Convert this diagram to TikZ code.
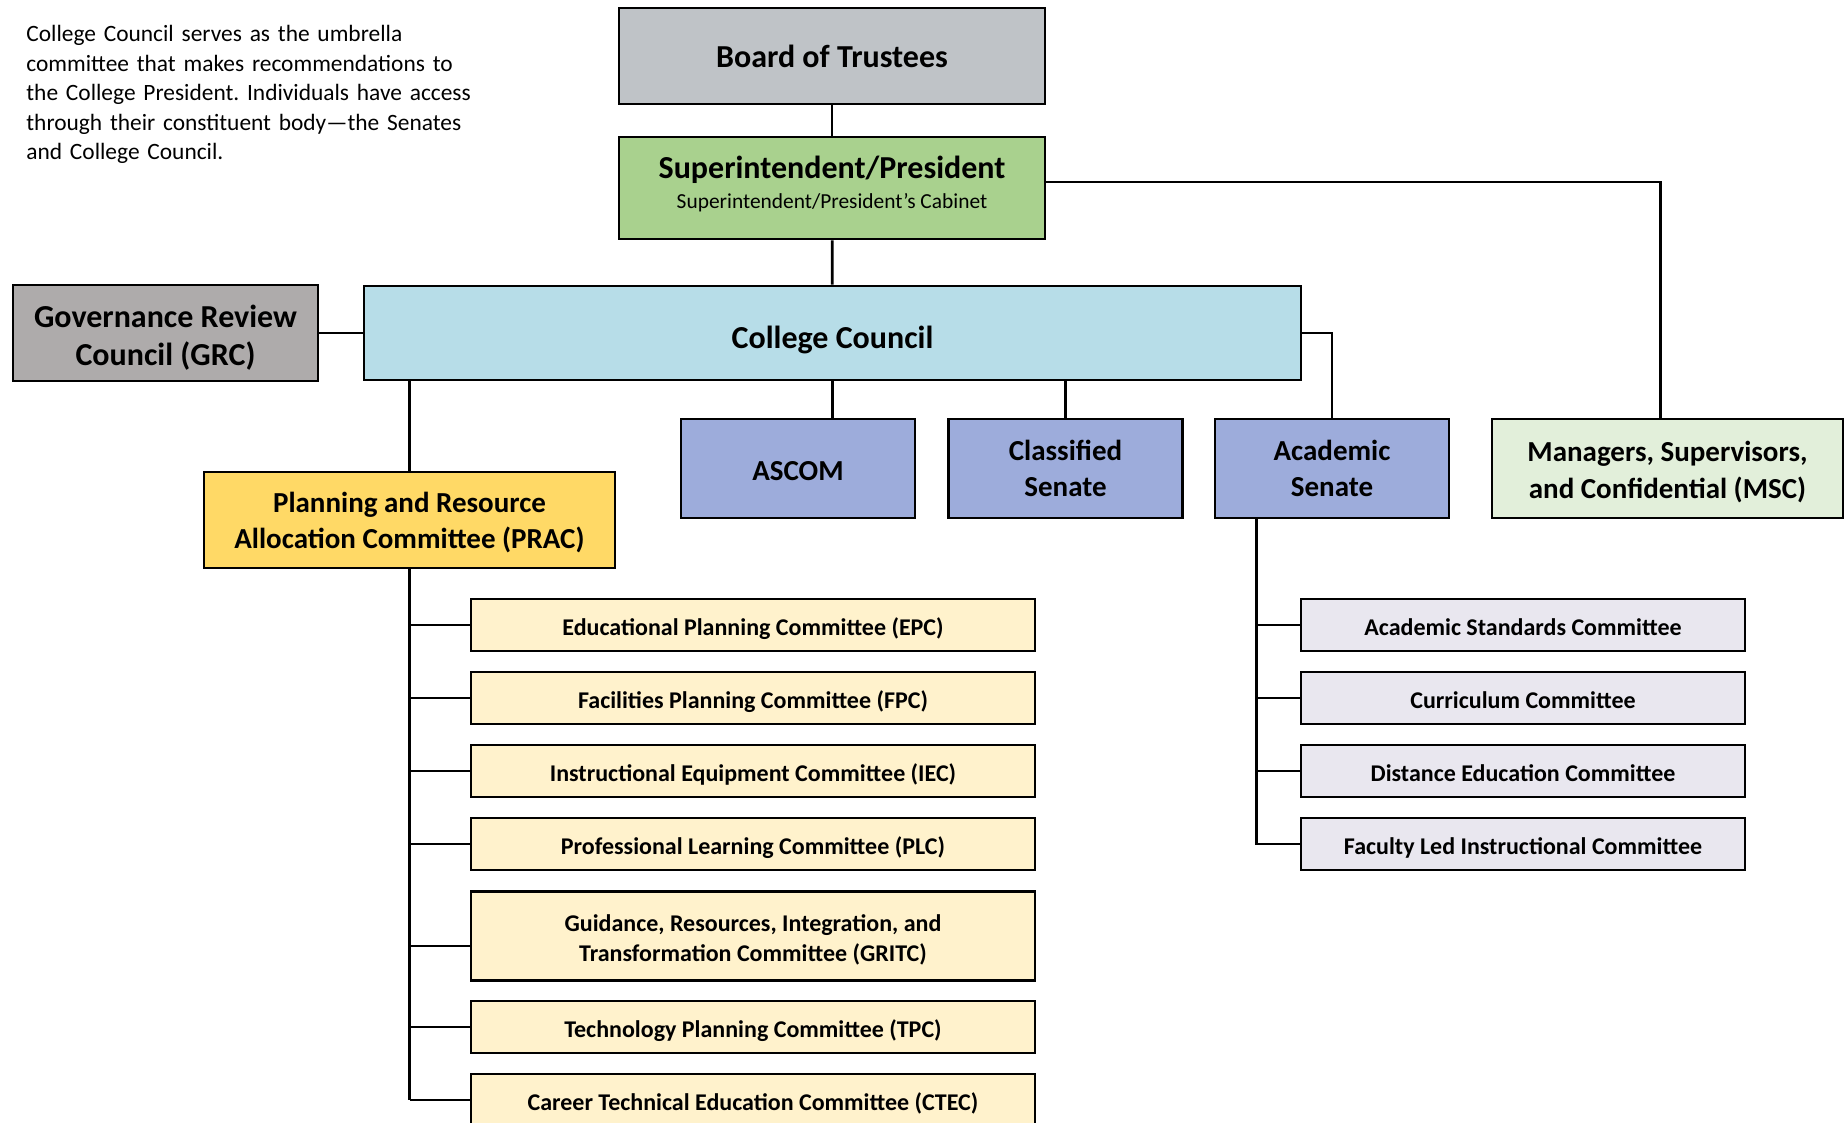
\documentclass[tikz,border=0pt]{standalone}
\usepackage{fontspec}
\setmainfont{Carlito}
\definecolor{boardgray}{RGB}{191,195,199}
\definecolor{suptgreen}{RGB}{169,209,142}
\definecolor{ccblue}{RGB}{183,221,232}
\definecolor{grcgray}{RGB}{174,171,171}
\definecolor{pracyellow}{RGB}{255,217,102}
\definecolor{senateblue}{RGB}{157,172,219}
\definecolor{mscgreen}{RGB}{226,239,218}
\definecolor{subyellow}{RGB}{255,242,204}
\definecolor{subgray}{RGB}{233,231,239}
\frenchspacing
\begin{document}
\begin{tikzpicture}[x=0.5pt,y=-0.5pt,
    box/.style={draw,line width=1.4pt,inner sep=0pt,align=center},
    big/.style={box,font=\fontsize{16}{19}\selectfont\bfseries},
    mid/.style={box,font=\fontsize{14.5}{18.2}\selectfont\bfseries,minimum width=117pt,minimum height=49.5pt},
    subfont/.style={font=\fontsize{12}{14.8}\selectfont\bfseries},
    sub/.style={box,subfont,minimum height=26pt,text height=10.5pt,text depth=0.5pt},
    link/.style={line width=1.4pt}]
    \useasboundingbox (0,0) rectangle (1848,1123);
    \node[anchor=base west,text width=230pt,align=left,inner sep=0pt,font=\fontsize{11.7}{14.7}\selectfont] (note) at (26,42)
        {College Council serves as the umbrella\\committee that makes recommendations to\\the College President. Individuals have access\\through their constituent body—the Senates\\and College Council.};
    % top of the chart
    \node[big,fill=boardgray,minimum width=213pt,minimum height=48pt] (board) at (832,56) {Board of Trustees};
    \node[big,fill=suptgreen,minimum width=213pt,minimum height=51pt] (supt) at (832,188)
        {Superintendent/President\\[-3.8pt]{\fontsize{10.7}{12}\selectfont\mdseries Superintendent/President’s Cabinet\rule[-5.6pt]{0pt}{5.6pt}}};
    \node[big,fill=ccblue,minimum width=468.5pt,minimum height=47pt,text height=17.5pt,text depth=1.5pt] (cc) at (832.5,333) {College Council};
    \node[big,fill=grcgray,minimum width=152.5pt,minimum height=48pt] (grc) at (165.5,333) {\rule{0pt}{16pt}Governance Review\\Council (GRC)};
    % second row
    \node[mid,fill=pracyellow,minimum width=205.5pt,minimum height=48pt] (prac) at (409.5,520) {\rule{0pt}{12.5pt}Planning and Resource\\Allocation Committee (PRAC)};
    \node[mid,fill=senateblue,text height=12pt,text depth=0.2pt] (ascom) at (798,468.5) {ASCOM};
    \node[mid,fill=senateblue] (clas) at (1065.5,468.5) {Classified\\Senate};
    \node[mid,fill=senateblue] (acad) at (1332,468.5) {Academic\\Senate};
    \node[mid,fill=mscgreen,minimum width=175.5pt] (msc) at (1667.5,468.5) {\rule{0pt}{13.5pt}Managers, Supervisors,\\and Confidential (MSC)};
    % PRAC committees
    \node[sub,fill=subyellow,minimum width=282pt] (epc) at (753,625) {Educational Planning Committee (EPC)};
    \node[sub,fill=subyellow,minimum width=282pt] (fpc) at (753,698) {Facilities Planning Committee (FPC)};
    \node[sub,fill=subyellow,minimum width=282pt] (iec) at (753,771) {Instructional Equipment Committee (IEC)};
    \node[sub,fill=subyellow,minimum width=282pt] (plc) at (753,844) {Professional Learning Committee (PLC)};
    \node[box,subfont,fill=subyellow,minimum width=282pt,minimum height=44.5pt] (gritc) at (753,936) {\rule{0pt}{12.3pt}Guidance, Resources, Integration, and\\Transformation Committee (GRITC)};
    \node[sub,fill=subyellow,minimum width=282pt] (tpc) at (753,1027) {Technology Planning Committee (TPC)};
    \node[sub,fill=subyellow,minimum width=282pt] (ctec) at (753,1100) {Career Technical Education Committee (CTEC)};
    % Academic Senate committees
    \node[sub,fill=subgray,minimum width=222pt] (asc) at (1523,625) {Academic Standards Committee};
    \node[sub,fill=subgray,minimum width=222pt] (curr) at (1523,698) {Curriculum Committee};
    \node[sub,fill=subgray,minimum width=222pt] (dist) at (1523,771) {Distance Education Committee};
    \node[sub,fill=subgray,minimum width=222pt] (flic) at (1523,844) {Faculty Led Instructional Committee};
    % connectors
    \draw[link] (board) -- (supt);
    \draw[link] (supt) -- (cc);
    \draw[link] ([yshift=3pt]supt.east) -| ([xshift=-3.5pt]msc.north);
    \draw[link] (grc) -- (cc);
    \draw[link] (cc.east) -| (acad.north);
    \draw[link] (cc.south) -- (cc.south |- ascom.north);
    \draw[link] (clas.north) -- (clas.north |- cc.south);
    \draw[link] (prac.north) -- (prac.north |- cc.south);
    \draw[link] (prac.south) -- (prac.south |- ctec.west);
    \foreach \n in {epc,fpc,iec,plc,tpc,ctec}
        \draw[link] (prac.south |- \n.west) -- (\n.west);
    \draw[link] (prac.south |- 0,946) -- (gritc.west |- 0,946);
    \coordinate (aline) at ([xshift=21.25pt]acad.south west);
    \draw[link] (aline) |- (flic.west);
    \foreach \n in {asc,curr,dist}
        \draw[link] (aline |- \n.west) -- (\n.west);
\end{tikzpicture}
\end{document}
